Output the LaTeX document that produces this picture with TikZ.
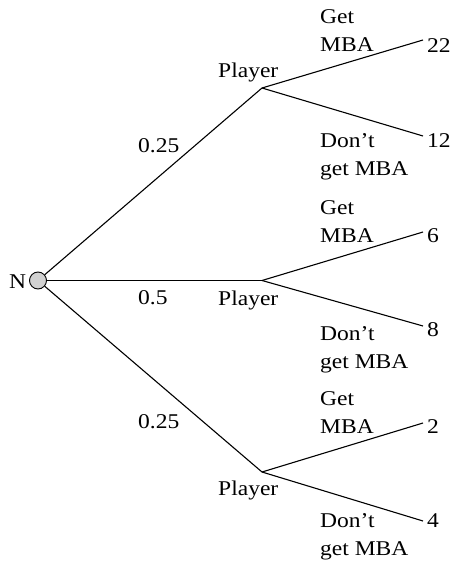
\documentclass[tikz,border=0pt]{standalone}
\usepackage{fontspec}
\setmainfont{Liberation Serif}[FakeStretch=1.12]
\begin{document}
\begin{tikzpicture}[x=1pt,y=-1pt,
  every node/.style={inner sep=0pt,font=\fontsize{21}{28.5}\selectfont},
  edge/.style={line width=1.1pt,black},
  txt/.style={anchor=base west},
  lab/.style={anchor=north west,align=left},
  chance/.style={circle,draw=black,line width=0.9pt,fill=black!18,minimum size=17pt}]
\useasboundingbox (0,0) rectangle (453,562);
% nodes
\node[chance] (root) at (38,280.5) {};
\node[txt] (N) at (9,288) {N};
\coordinate (p1) at (262,88);
\coordinate (p2) at (262,280.5);
\coordinate (p3) at (262,472);
\coordinate (e11) at (423,40);
\coordinate (e12) at (423,136);
\coordinate (e21) at (423,232);
\coordinate (e22) at (423,326);
\coordinate (e31) at (423,423);
\coordinate (e32) at (423,521);
% connectors
\draw[edge] (root) -- (p1);
\draw[edge] (root) -- (p2);
\draw[edge] (root) -- (p3);
\draw[edge] (p1) -- (e11);
\draw[edge] (p1) -- (e12);
\draw[edge] (p2) -- (e21);
\draw[edge] (p2) -- (e22);
\draw[edge] (p3) -- (e31);
\draw[edge] (p3) -- (e32);
% probabilities
\node[txt] (q1) at (138,152) {0.25};
\node[txt] (q2) at (138,304) {0.5};
\node[txt] (q3) at (138,428) {0.25};
% player labels
\node[txt] (pl1) at (218,77) {Player};
\node[txt] (pl2) at (218,305) {Player};
\node[txt] (pl3) at (218,495) {Player};
% action labels
\node[lab] (g1) at (320,9) {Get\\MBA};
\node[lab] (d1) at (320,133) {Don’t\\get MBA};
\node[lab] (g2) at (320,200) {Get\\MBA};
\node[lab] (d2) at (320,326) {Don’t\\get MBA};
\node[lab] (g3) at (320,391) {Get\\MBA};
\node[lab] (d3) at (320,513) {Don’t\\get MBA};
% payoffs
\node[txt] (v11) at (427,52) {22};
\node[txt] (v12) at (427,147) {12};
\node[txt] (v21) at (427,242) {6};
\node[txt] (v22) at (427,336) {8};
\node[txt] (v31) at (427,433) {2};
\node[txt] (v32) at (427,527) {4};
\end{tikzpicture}
\end{document}
